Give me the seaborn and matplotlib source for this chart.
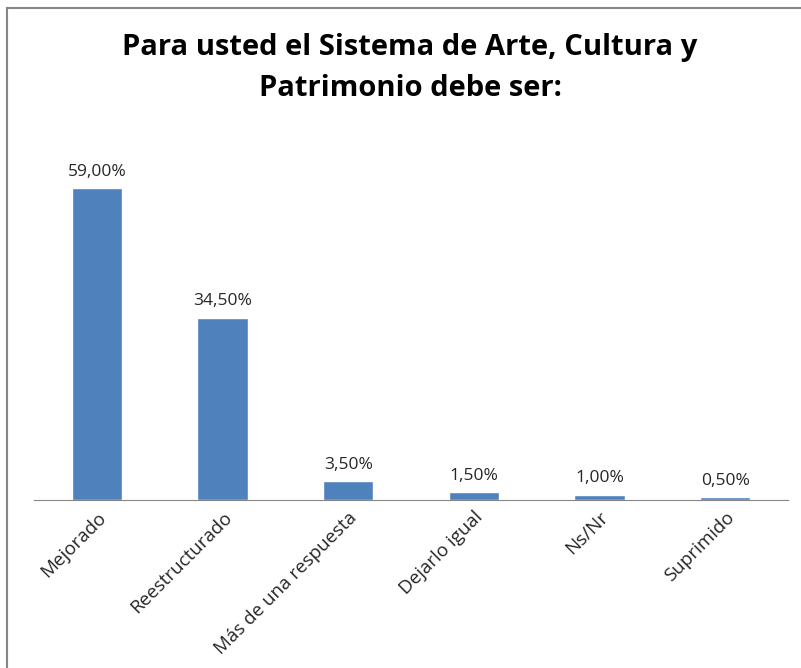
import numpy as np
import pandas as pd
import matplotlib.pyplot as plt
import seaborn as sns
from matplotlib.patches import Rectangle

# datos
categorias = ['Mejorado', 'Reestructurado', 'Más de una respuesta', 'Dejarlo igual', 'Ns/Nr', 'Suprimido']
porcentajes = [59.0, 34.5, 3.5, 1.5, 1.0, 0.5]
titulo = 'Para usted el Sistema de Arte, Cultura y\nPatrimonio debe ser:'

df = pd.DataFrame({'categoria': categorias, 'valor': porcentajes})

sns.set_style('white')
plt.rcParams['font.family'] = ['Open Sans', 'DejaVu Sans']

W, H = 801, 668
fig = plt.figure(figsize=(W / 100, H / 100), dpi=100)

# marco gris del gráfico
fig.patches.append(Rectangle((7 / W, -0.05), 1.0, 1 - 8 / H + 0.05, transform=fig.transFigure,
                             fill=False, edgecolor='#868686', linewidth=1.5))

ax = fig.add_axes([34 / W, 1 - 500 / H, (788 - 34) / W, (500 - 150) / H])
sns.barplot(data=df, x='categoria', y='valor', color='#4F81BD', saturation=1,
            width=0.4, ax=ax)

ax.set_ylim(0, 350 / (312 / 59.0))
ax.set_xlim(-0.5, len(categorias) - 0.5)

for i, v in enumerate(porcentajes):
    ax.text(i, v + 1.6, f'{v:.2f}%'.replace('.', ','), ha='center', va='bottom',
            fontsize=12.5, color='#262626')

for s in ['top', 'right', 'left']:
    ax.spines[s].set_visible(False)
ax.spines['bottom'].set_color('#868686')
ax.set_yticks([])
ax.set_xlabel('')
ax.set_ylabel('')

ax.set_xticks(range(len(categorias)))
ax.set_xticklabels(categorias, rotation=45, ha='right', rotation_mode='anchor',
                   fontsize=13.5, color='#262626')
ax.tick_params(axis='x', which='major', length=0, pad=6)
ax.set_xticks(np.arange(-0.5, len(categorias)), minor=True)
ax.tick_params(axis='x', which='minor', length=7, color='#868686', width=1)

fig.text(410 / W, 1 - 68 / H, titulo, ha='center', va='center', fontsize=21,
         fontweight='bold', color='black', linespacing=1.5)

fig.savefig('out.png', dpi=100, facecolor='white')
